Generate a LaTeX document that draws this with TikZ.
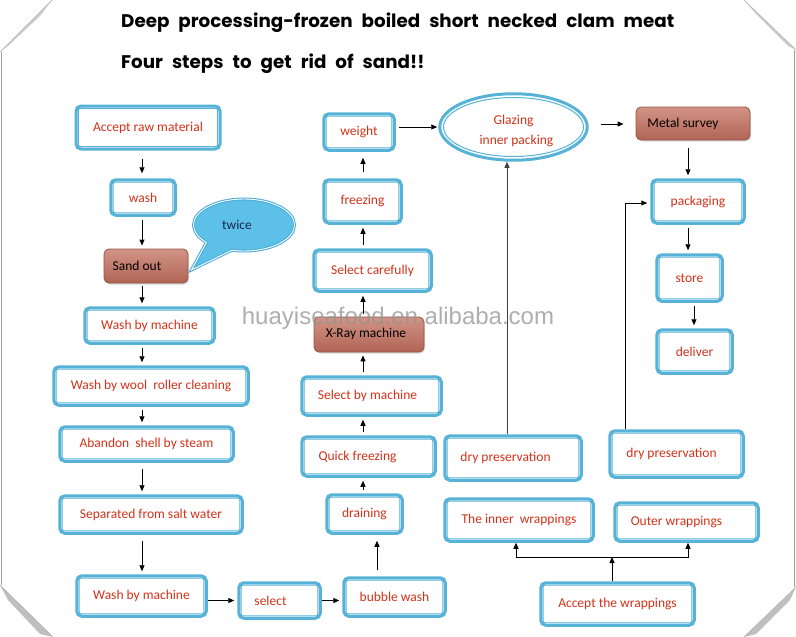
\documentclass[tikz,border=0pt]{standalone}
\usepackage{fontspec}
\setmainfont{Carlito}
\newfontfamily\titlefont{Poppins}
\newfontfamily\wmfont{Liberation Sans}
\newcommand\mytitlefont{\titlefont\bfseries\fontsize{18.3}{20}\selectfont\spaceskip=9pt plus 1pt\relax}
\usetikzlibrary{arrows.meta,shapes.geometric,shapes.callouts,shadows}
\definecolor{boxblue}{RGB}{86,178,214}
\definecolor{txtred}{RGB}{210,50,25}
\definecolor{brownL}{RGB}{210,148,134}
\definecolor{brownD}{RGB}{176,100,84}
\definecolor{brownE}{RGB}{150,84,70}
\definecolor{callfill}{RGB}{92,192,232}
\definecolor{callborder}{RGB}{76,172,216}
\definecolor{navy}{RGB}{25,40,80}
\tikzset{
  box/.style={draw=boxblue, line width=3pt, rounded corners=5pt, fill=white,
    inner sep=0pt, text=txtred, font=\fontsize{13.5}{15}\selectfont},
  innerline/.style={draw=boxblue, line width=1pt, rounded corners=2pt},
  brownbox/.style={draw=brownE, line width=0.8pt, rounded corners=5pt,
    top color=brownL, bottom color=brownD, inner sep=0pt, text=black,
    drop shadow={opacity=0.3, shadow xshift=1pt, shadow yshift=-1.5pt},
    font=\fontsize{13.5}{15}\selectfont},
  arr/.style={-{Triangle[length=6pt,width=5pt]}, line width=0.9pt, black,
    shorten <=3pt, shorten >=3pt},
  ttl/.style={anchor=west, inner sep=0pt, font=\mytitlefont},
  wm/.style={inner sep=0pt, text=gray!85, opacity=0.75, font=\wmfont\fontsize{24}{26}\selectfont},
  foldline/.style={draw=gray!75, line width=0.8pt}
}
\begin{document}
\begin{tikzpicture}[x=1pt,y=-1pt]
\useasboundingbox (0,0) rectangle (796,637);

% page edges and folded corners
\draw[foldline] (1.2,52) -- (1.2,585);
\draw[foldline] (794.8,50) -- (794.8,587);
\fill[gray!40] (0,52) -- (52,0) -- (40,16) -- (8,46) -- cycle;
\draw[gray!60, line width=0.6pt] (0,52) -- (52,0);
\fill[gray!40] (744,0) -- (796,50) -- (788,46) -- (756,14) -- cycle;
\draw[gray!60, line width=0.6pt] (744,0) -- (796,50);
\fill[gray!50] (0,585) -- (53,637) -- (40,634) -- (8,600) -- cycle;
\draw[gray!60, line width=0.6pt] (0,585) -- (53,637);
\fill[gray!50] (796,587) -- (744,637) -- (756,634) -- (790,600) -- cycle;
\draw[gray!60, line width=0.6pt] (796,587) -- (744,637);

% titles
\node[ttl] (t1) at (121,23) {Deep processing-frozen boiled short necked clam meat};
\node[ttl] (t2) at (121,64) {Four steps to get rid of sand!!};

% left column
\node[box, minimum width=144pt, minimum height=43pt] (raw) at (148,127.5) {Accept raw material};
\node[box, minimum width=64.5pt, minimum height=35.5pt] (wash) at (143,197.5) {wash};
\node[brownbox, minimum width=84pt, minimum height=34pt] (sand) at (146,266) {Sand out\kern18pt};
\node[box, minimum width=129.5pt, minimum height=35.5pt] (wbm1) at (149.5,325.5) {Wash by machine};
\node[box, minimum width=194.5pt, minimum height=38.5pt] (wool) at (151,386) {Wash by wool\ \ roller cleaning};
\node[box, minimum width=173.5pt, minimum height=34.5pt] (aband) at (146.5,444) {Abandon\ \ shell by steam};
\node[box, minimum width=182.5pt, minimum height=37.5pt] (sep) at (151,514.5) {Separated from salt water};
\node[box, minimum width=129.5pt, minimum height=40.5pt] (wbm2) at (141.5,596) {Wash by machine};
\node[box, minimum width=81.5pt, minimum height=35.5pt] (select) at (279.5,600.5) {select\kern18pt};

% middle column
\node[box, minimum width=101.5pt, minimum height=38.5pt] (bubble) at (394.5,597) {bubble wash};
\node[box, minimum width=75.5pt, minimum height=38.5pt] (drain) at (364.5,514) {draining};
\node[box, minimum width=133.5pt, minimum height=39.5pt] (quick) at (368.5,456.5) {Quick freezing\kern22pt};
\node[box, minimum width=139.5pt, minimum height=38.5pt] (selm) at (371.5,396) {Select by machine\kern8pt};
\node[brownbox, minimum width=110pt, minimum height=35pt] (xray) at (369,334.5) {\raisebox{3pt}{X-Ray machine}\kern6pt};
\node[box, minimum width=117.5pt, minimum height=41.5pt] (selc) at (372.5,270.5) {Select carefully};
\node[box, minimum width=77.5pt, minimum height=43.5pt] (freez) at (362.5,201.5) {freezing};
\node[box, minimum width=70.5pt, minimum height=36.5pt] (weight) at (359,132) {weight};

% glazing ellipse
\node[ellipse, draw=boxblue, line width=3pt, fill=white, inner sep=0pt,
      minimum width=147.5pt, minimum height=66.5pt, text=txtred, align=center,
      font=\fontsize{13.5}{20}\selectfont] (glz) at (513.5,127) {\rule{0pt}{18pt}Glazing\\\kern6pt inner packing};
\draw[boxblue, line width=1pt] (glz.center) ellipse [x radius=70pt, y radius=29.5pt];

% right column
\node[brownbox, minimum width=114pt, minimum height=33pt] (metal) at (693,123.5) {Metal survey\kern20pt};
\node[box, minimum width=92.5pt, minimum height=43.5pt] (pack) at (698,201.5) {packaging};
\node[box, minimum width=65.5pt, minimum height=46.5pt] (store) at (689.5,278) {store};
\node[box, minimum width=75.5pt, minimum height=43.5pt] (deliver) at (694.5,351.5) {deliver};
\node[box, minimum width=136.5pt, minimum height=44.5pt] (dry1) at (513,458) {dry preservation\kern15pt};
\node[box, minimum width=133.5pt, minimum height=46.5pt] (dry2) at (676.5,454) {\raisebox{3pt}{dry preservation}\kern10pt};
\node[box, minimum width=148.5pt, minimum height=42.5pt] (inner) at (519,520) {The inner\ \ wrappings};
\node[box, minimum width=143.5pt, minimum height=38.5pt] (outer) at (686.5,522) {Outer wrappings\kern20pt};
\node[box, minimum width=153.5pt, minimum height=42.5pt] (accw) at (617.5,604) {Accept the wrappings};

% inner frames of the blue boxes
\foreach \n in {raw,wash,wbm1,wool,aband,sep,wbm2,select,bubble,drain,quick,selm,selc,freez,weight,pack,store,deliver,dry1,dry2,inner,outer,accw}
  \draw[innerline] ([shift={(3.8pt,3.8pt)}]\n.south west) rectangle ([shift={(-3.8pt,-3.8pt)}]\n.north east);

% callout
\node[ellipse callout, draw=callborder, line width=3pt, fill=callfill,
      minimum width=101pt, minimum height=52pt, inner sep=0pt,
      callout absolute pointer={([xshift=3pt,yshift=-4pt]sand.east)},
      callout pointer arc=34, text=navy, font=\fontsize{13.5}{15}\selectfont,
      postaction={draw=white, line width=0.9pt}] (twice) at (244,225) {\raisebox{-3pt}{twice}\kern14pt};

% watermark
\node[wm] (wmk) at (398,318) {huayiseafood.en.alibaba.com};

% column guides
\coordinate (cA) at (142,0);
\coordinate (cB) at (377,0);
\coordinate (cC) at (363,0);
\coordinate (cD) at (507,0);
\coordinate (cE) at (688,0);
\coordinate (cF) at (625,0);
\coordinate (cG) at (694,0);
\coordinate (j) at (612,557);
\coordinate (jl) at (516,557);
\coordinate (jr) at (688,557);

% connectors
\draw[arr, shorten <=8pt, shorten >=5pt] (raw.south -| cA) -- (wash.north -| cA);
\draw[arr] (wash.south -| cA) -- (sand.north -| cA);
\draw[arr] (sand.south -| cA) -- (wbm1.north -| cA);
\draw[arr] (wbm1.south -| cA) -- (wool.north -| cA);
\draw[arr] (wool.south -| cA) -- (aband.north -| cA);
\draw[arr, shorten <=6pt] (aband.south -| cA) -- (sep.north -| cA);
\draw[arr, shorten <=6pt] (sep.south -| cA) -- (wbm2.north -| cA);
\draw[arr, shorten <=0pt] (wbm2.east |- select) -- (select.west);
\draw[arr, shorten <=0pt] (select.east) -- (select.east -| bubble.west);
\draw[arr, shorten <=6pt, shorten >=6pt] (bubble.north -| cB) -- (drain.south -| cB);
\draw[arr] (drain.north -| cC) -- (quick.south -| cC);
\draw[arr] (quick.north -| cC) -- (selm.south -| cC);
\draw[arr] (selm.north -| cC) -- (xray.south -| cC);
\draw[arr] (xray.north -| cC) -- (selc.south -| cC);
\draw[arr] (selc.north -| cC) -- (freez.south -| cC);
\draw[arr, shorten <=6pt, shorten >=6pt] (freez.north -| cC) -- (weight.south -| cC);
\draw[arr, shorten >=1pt] (weight.east |- glz) -- (glz.west);
\draw[arr, line width=0.7pt, draw=black!75, shorten <=0pt, shorten >=0pt] (dry1.north -| cD) -- (glz.south -| cD);
\draw[arr, shorten <=12pt, shorten >=12pt] ([yshift=3pt]glz.east) -- ([yshift=3pt]glz.east -| metal.west);
\draw[arr, shorten <=8pt] (metal.south -| cE) -- (pack.north -| cE);
\draw[arr] (pack.south -| cE) -- (store.north -| cE);
\draw[arr] (store.south -| cG) -- (deliver.north -| cG);
\draw[arr, shorten <=0pt] (dry2.north -| cF) |- ([yshift=-1.5pt]pack.west);
\draw[arr, shorten <=0pt, shorten >=0pt] (accw.north -| j) -- (j);
\draw[arr, shorten <=0pt, shorten >=0pt] (j) -- (jl) -- (inner.south -| jl);
\draw[arr, shorten <=0pt, shorten >=0pt] (j) -- (jr) -- (outer.south -| jr);
\end{tikzpicture}
\end{document}
